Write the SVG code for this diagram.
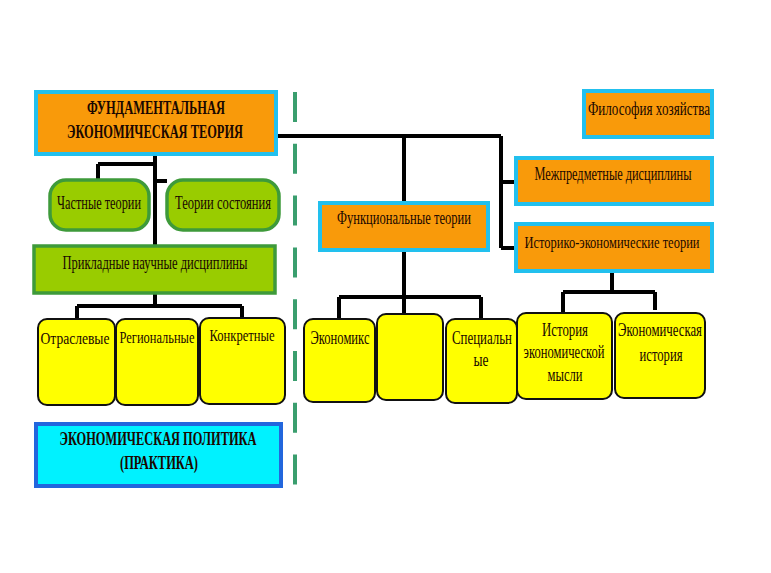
<svg xmlns="http://www.w3.org/2000/svg" width="771" height="573" viewBox="0 0 771 573">
<style>
.or{fill:#F99A0A;stroke:#22C0EE;stroke-width:4}
.gr{fill:#99CC00;stroke:#3E9A3A;stroke-width:3.5}
.ye{fill:#FFFF00;stroke:#111;stroke-width:2}
.pol{fill:#00F2FF;stroke:#2266DD;stroke-width:4}
text{font-family:"Liberation Serif","Times New Roman",serif;font-size:18px;fill:#1a0800}
.b{font-weight:bold;font-size:19px}
.c{text-anchor:middle}
.s{font-size:16px}
.ln{stroke:#000;fill:none;stroke-width:4}
.dash{stroke:#3A9E6E;stroke-width:4;stroke-dasharray:30 21.8;fill:none}
</style>
<rect width="771" height="573" fill="#fff"/>
<line class="dash" x1="295" y1="92" x2="295" y2="487"/>
<g id="connectors">
<path class="ln" stroke-width="5" d="M278 136 H501"/>
<path class="ln" d="M404 136 V202 M501 136 V248 M501 182 H515 M501 248 H515"/>
<path class="ln" d="M155 156 V245 M98 164 H155 M98 164 V180 M155 181 H167"/>
<path class="ln" d="M155 293 V306 M77 306 H242 M77 306 V319 M242 306 V318"/>
<path class="ln" d="M404 251 V313 M339 297 H481 M339 297 V319 M481 297 V319"/>
<path class="ln" d="M612 272 V292 M563 292 H655 M563 292 V313 M655 292 V310"/>
</g>
<g id="fund">
<rect class="or" x="36" y="92" width="240" height="62"/>
<text class="b c" x="156" y="114" textLength="138" lengthAdjust="spacingAndGlyphs">ФУНДАМЕНТАЛЬНАЯ</text>
<text class="b c" x="155" y="138" textLength="176" lengthAdjust="spacingAndGlyphs">ЭКОНОМИЧЕСКАЯ ТЕОРИЯ</text>
</g>
<g id="chast">
<rect class="gr" x="50" y="180" width="99" height="50" rx="16"/>
<text class="c" x="99" y="209" textLength="84" lengthAdjust="spacingAndGlyphs">Частные теории</text>
</g>
<g id="sost">
<rect class="gr" x="167" y="180" width="112" height="50" rx="16"/>
<text class="c" x="223" y="209" textLength="96" lengthAdjust="spacingAndGlyphs">Теории состояния</text>
</g>
<g id="prikl">
<rect class="gr" x="34" y="246" width="241" height="47"/>
<text class="c" x="155" y="269" textLength="185" lengthAdjust="spacingAndGlyphs">Прикладные научные дисциплины</text>
</g>
<g id="otr">
<rect class="ye" x="38" y="319" width="77" height="86" rx="9"/>
<text class="c s" x="75" y="344" textLength="69" lengthAdjust="spacingAndGlyphs">Отраслевые</text>
</g>
<g id="reg">
<rect class="ye" x="116" y="319" width="82" height="86" rx="9"/>
<text class="c s" x="157" y="343" textLength="75" lengthAdjust="spacingAndGlyphs">Региональные</text>
</g>
<g id="konk">
<rect class="ye" x="200" y="318" width="85" height="86" rx="9"/>
<text class="c s" x="242" y="341" textLength="65" lengthAdjust="spacingAndGlyphs">Конкретные</text>
</g>
<g id="polit">
<rect class="pol" x="36" y="424" width="245" height="62"/>
<text class="b c" x="158" y="445" textLength="197" lengthAdjust="spacingAndGlyphs">ЭКОНОМИЧЕСКАЯ ПОЛИТИКА</text>
<text class="b c" x="159" y="469" textLength="78" lengthAdjust="spacingAndGlyphs">(ПРАКТИКА)</text>
</g>
<g id="func">
<rect class="or" x="320" y="203" width="168" height="47"/>
<text class="c" x="404" y="224" textLength="134" lengthAdjust="spacingAndGlyphs">Функциональные теории</text>
</g>
<g id="filos">
<rect class="or" x="584" y="91" width="128" height="46"/>
<text class="c" x="649" y="115" textLength="122" lengthAdjust="spacingAndGlyphs">Философия хозяйства</text>
</g>
<g id="mezh">
<rect class="or" x="516" y="158" width="196" height="46"/>
<text class="c" x="613" y="180" textLength="157" lengthAdjust="spacingAndGlyphs">Межпредметные дисциплины</text>
</g>
<g id="istor">
<rect class="or" x="516" y="224" width="196" height="47"/>
<text class="c s" x="612" y="248" textLength="175" lengthAdjust="spacingAndGlyphs">Историко-экономические теории</text>
</g>
<g id="ekonomiks">
<rect class="ye" x="304" y="319" width="71" height="83" rx="9"/>
<text class="c" x="340" y="344" textLength="59" lengthAdjust="spacingAndGlyphs">Экономикс</text>
</g>
<g id="empty">
<rect class="ye" x="377" y="314" width="66" height="86" rx="9"/>
</g>
<g id="spec">
<rect class="ye" x="446" y="319" width="71" height="84" rx="9"/>
<text class="c" x="482" y="344" textLength="60" lengthAdjust="spacingAndGlyphs">Специальн</text>
<text class="c" x="481" y="366" textLength="15" lengthAdjust="spacingAndGlyphs">ые</text>
</g>
<g id="ist-mysl">
<rect class="ye" x="517" y="313" width="95" height="86" rx="9"/>
<text class="c" x="565" y="336" textLength="46" lengthAdjust="spacingAndGlyphs">История</text>
<text class="c" x="564" y="358" textLength="81" lengthAdjust="spacingAndGlyphs">экономической</text>
<text class="c" x="565" y="381" textLength="35" lengthAdjust="spacingAndGlyphs">мысли</text>
</g>
<g id="ek-ist">
<rect class="ye" x="615" y="313" width="90" height="85" rx="9"/>
<text class="c" x="660" y="336" textLength="84" lengthAdjust="spacingAndGlyphs">Экономическая</text>
<text class="c" x="661" y="361" textLength="43" lengthAdjust="spacingAndGlyphs">история</text>
</g>
</svg>
